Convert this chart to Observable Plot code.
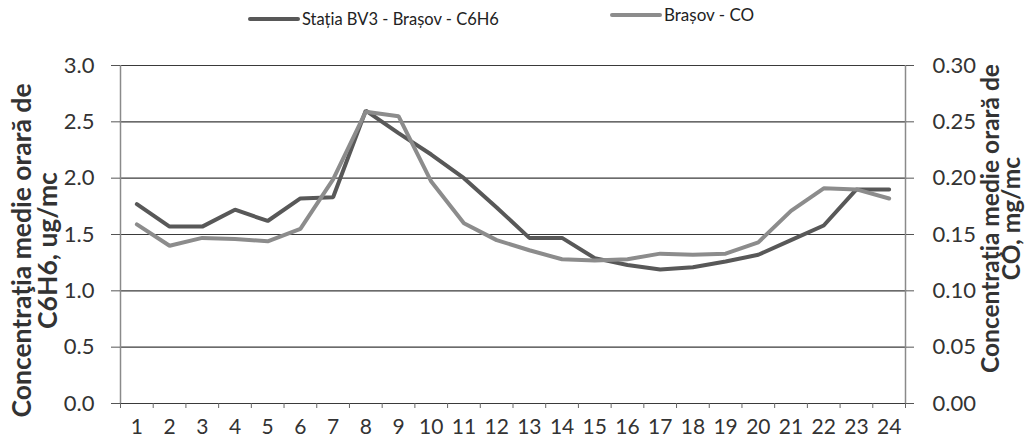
<!DOCTYPE html>
<html><head><meta charset="utf-8">
<script src="https://cdn.jsdelivr.net/npm/d3@7"></script>
<script src="https://cdn.jsdelivr.net/npm/@observablehq/plot@0.6"></script>
<style>
body{margin:0;background:#fff;font-family:Lato,"Open Sans",sans-serif;}
#wrap{position:relative;width:1036px;height:443px;overflow:hidden;}
#legend{position:absolute;left:0;top:0;width:1036px;height:40px;}
.item{position:absolute;display:flex;align-items:center;color:#222;white-space:nowrap;}
.sw{width:52px;height:4px;margin-right:2px;border-radius:2px;}
#chart{position:absolute;left:0;top:40px;}
</style></head><body>
<div id="wrap"><div id="legend"></div><div id="chart"></div></div>
<script>
const hours = [1,2,3,4,5,6,7,8,9,10,11,12,13,14,15,16,17,18,19,20,21,22,23,24];
const c6h6 = [1.77,1.57,1.57,1.72,1.62,1.82,1.83,2.60,2.40,2.21,2.00,1.74,1.47,1.47,1.29,1.23,1.19,1.21,1.26,1.32,1.45,1.58,1.90,1.90];
const co = [0.159,0.140,0.147,0.146,0.144,0.155,0.199,0.259,0.255,0.197,0.160,0.145,0.136,0.128,0.127,0.128,0.133,0.132,0.133,0.143,0.171,0.191,0.190,0.182];
const leftTicks = [0,0.5,1.0,1.5,2.0,2.5,3.0];
const rightTicks = [0,0.05,0.10,0.15,0.20,0.25,0.30];
const seriesNames = ["Stația BV3 - Brașov - C6H6","Brașov - CO"];
const seriesColors = ["#585858","#8c8c8c"];
const leftTitle = "Concentraţia medie orară de\nC6H6, ug/mc";
const rightTitle = "Concentraţia medie orară de\nCO, mg/mc";

const rows = [];
hours.forEach((h,i)=>{
  rows.push({hour:h, v:c6h6[i], s:seriesNames[0]});
  rows.push({hour:h, v:co[i]*10, s:seriesNames[1]});
});

// legend
const legend = document.getElementById("legend");
const legPos = [{left:248, top:9, fs:16.5},{left:610, top:4, fs:17}];
seriesNames.forEach((n,i)=>{
  const it = document.createElement("div");
  it.className="item"; it.style.left=legPos[i].left+"px"; it.style.top=legPos[i].top+"px"; it.style.fontSize=legPos[i].fs+"px";
  const sw=document.createElement("span"); sw.className="sw"; sw.style.background=seriesColors[i];
  const tx=document.createElement("span"); tx.textContent=n;
  it.appendChild(sw); it.appendChild(tx); legend.appendChild(it);
});

const chart = Plot.plot({
  width:1036, height:403,
  marginLeft:120, marginRight:131, marginTop:25, marginBottom:40,
  style:{fontFamily:"Lato, 'Open Sans', sans-serif", fontSize:"21px", color:"#333", overflow:"visible", background:"transparent"},
  x:{domain:[0.5,24.5], axis:null},
  y:{domain:[0,3], axis:null},
  color:{domain:seriesNames, range:seriesColors},
  marks:[
    Plot.ruleY(leftTicks,{stroke:"#3a3a3a", strokeWidth:1.1}),
    Plot.ruleX([0.5],{stroke:"#8a8a8a", strokeWidth:1.5}),
    Plot.ruleX([24.5],{stroke:"#8a8a8a", strokeWidth:1.5}),
    Plot.axisY(leftTicks,{anchor:"left", tickSize:9, tickPadding:17, tickFormat:d=>d.toFixed(1), label:null, fontSize:22, stroke:"#555"}),
    Plot.axisY(rightTicks.map(v=>v*10),{anchor:"right", tickSize:8, tickPadding:19, tickFormat:d=>(d/10).toFixed(2), label:null, fontSize:22, stroke:"#555"}),
    Plot.axisX(d3.range(0.5,25,1),{anchor:"bottom", tickSize:5, tickFormat:()=>"", label:null, stroke:"#666"}),
    Plot.axisX(hours,{anchor:"bottom", tickSize:0, tickPadding:16, label:null, fontSize:21}),
    Plot.line(rows,{x:"hour", y:"v", z:"s", stroke:"s", strokeWidth:4, strokeLinejoin:"miter"}),
    Plot.text([leftTitle],{text:d=>d, frameAnchor:"left", textAnchor:"middle", lineAnchor:"middle", rotate:-90, dx:-85, dy:16, fontSize:26.5, fontWeight:"bold", lineHeight:0.98, fill:"#333"}),
    Plot.text([rightTitle],{text:d=>d, frameAnchor:"right", textAnchor:"middle", lineAnchor:"middle", rotate:-90, dx:97, dy:-16, fontSize:24.5, fontWeight:"bold", lineHeight:0.86, fill:"#333"})
  ]
});
document.getElementById("chart").appendChild(chart);
</script>
</body></html>
